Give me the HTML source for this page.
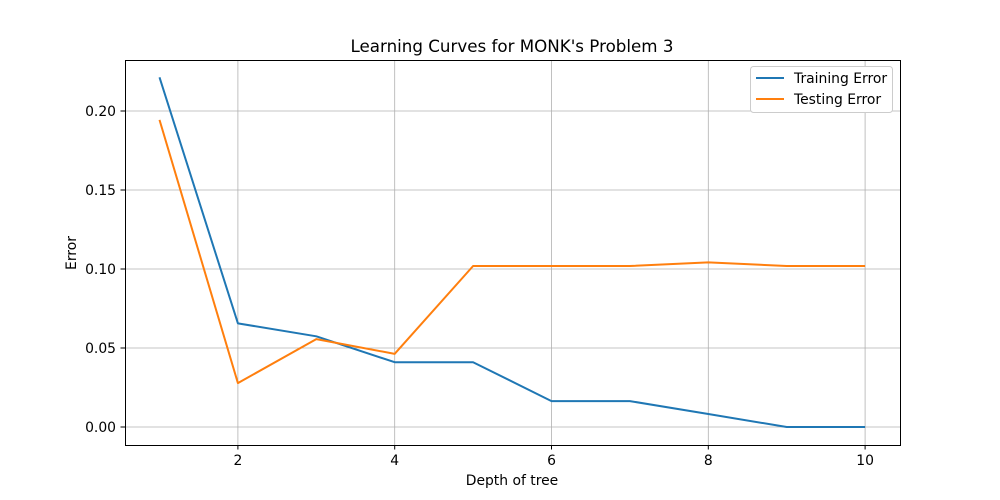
<!DOCTYPE html>
<html><head><meta charset="utf-8"><style>
html,body{margin:0;padding:0;background:#fff;}
svg{display:block;font-family:"DejaVu Sans","Liberation Sans",sans-serif;}
</style></head><body>
<svg id="chart" width="1000" height="500" xmlns="http://www.w3.org/2000/svg">
<rect x="0" y="0" width="1000" height="500" fill="#fff"/>
<text x="512" y="52" font-size="16.7" text-anchor="middle">Learning Curves for MONK's Problem 3</text>
<g id="grid"></g><g id="series"></g><g id="ticks"></g>
<rect x="125.5" y="60.5" width="775" height="385" fill="none" stroke="#000" stroke-width="1"/>
<text x="512" y="485" font-size="13.9" text-anchor="middle">Depth of tree</text>
<text x="76" y="253" font-size="13.9" text-anchor="middle" transform="rotate(-90 76 253)">Error</text>
<g>
<rect x="750.5" y="66.5" width="142" height="46" rx="3" fill="#fff" stroke="#ccc"/>
<g><line x1="756" y1="78" x2="784" y2="78" stroke="#1f77b4" stroke-width="2"/><text x="794" y="83" font-size="13.9">Training Error</text></g>
<g><line x1="756" y1="99" x2="784" y2="99" stroke="#ff7f0e" stroke-width="2"/><text x="794" y="104" font-size="13.9">Testing Error</text></g>
</g>
</svg>
<script>
const depths = [1,2,3,4,5,6,7,8,9,10];
const trainingError = [0.2213,0.0656,0.0574,0.0410,0.0410,0.0164,0.0164,0.0082,0,0];
const testingError = [0.1944,0.0278,0.0556,0.0463,0.1019,0.1019,0.1019,0.1042,0.1019,0.1019];
const xTicks = [2,4,6,8,10];
const yTicks = [0,0.05,0.10,0.15,0.20];
const yTickLabels = ["0.00","0.05","0.10","0.15","0.20"];
const NS="http://www.w3.org/2000/svg";
function xs(v){return 159.5+(v-1)*78.4;}
function ys(v){return 427-v*1580;}
const grid=document.getElementById('grid'),ticks=document.getElementById('ticks'),series=document.getElementById('series');
function mk(tag,attrs,parent){const e=document.createElementNS(NS,tag);for(const k in attrs)e.setAttribute(k,attrs[k]);parent.appendChild(e);return e;}
xTicks.forEach(t=>{
 const x=xs(t);
 const g=mk('line',{x1:x,y1:60,x2:x,y2:445,stroke:'#b0b0b0','stroke-width':0.8},grid);
 
 
 mk('line',{x1:x,y1:445,x2:x,y2:449.5,stroke:'#000'},ticks);
 const l=mk('text',{x:x,y:465,'font-size':13.9,'text-anchor':'middle'},ticks);l.textContent=t;
 
 
});
yTicks.forEach((t,i)=>{
 const y=ys(t);
 const g=mk('line',{x1:125,y1:y,x2:900,y2:y,stroke:'#b0b0b0','stroke-width':0.8},grid);
 
 
 mk('line',{x1:120.5,y1:y,x2:125,y2:y,stroke:'#000'},ticks);
 const l=mk('text',{x:116,y:y+5,'font-size':13.9,'text-anchor':'end'},ticks);l.textContent=yTickLabels[i];
 
 
});
function line(vals,color,name){
 const p=mk('polyline',{points:vals.map((v,i)=>xs(depths[i])+','+ys(v)).join(' '),fill:'none',stroke:color,'stroke-width':2,'stroke-linejoin':'round'},series);
 
 
}
line(trainingError,'#1f77b4','training-error-line');
line(testingError,'#ff7f0e','testing-error-line');
</script>
</body></html>
